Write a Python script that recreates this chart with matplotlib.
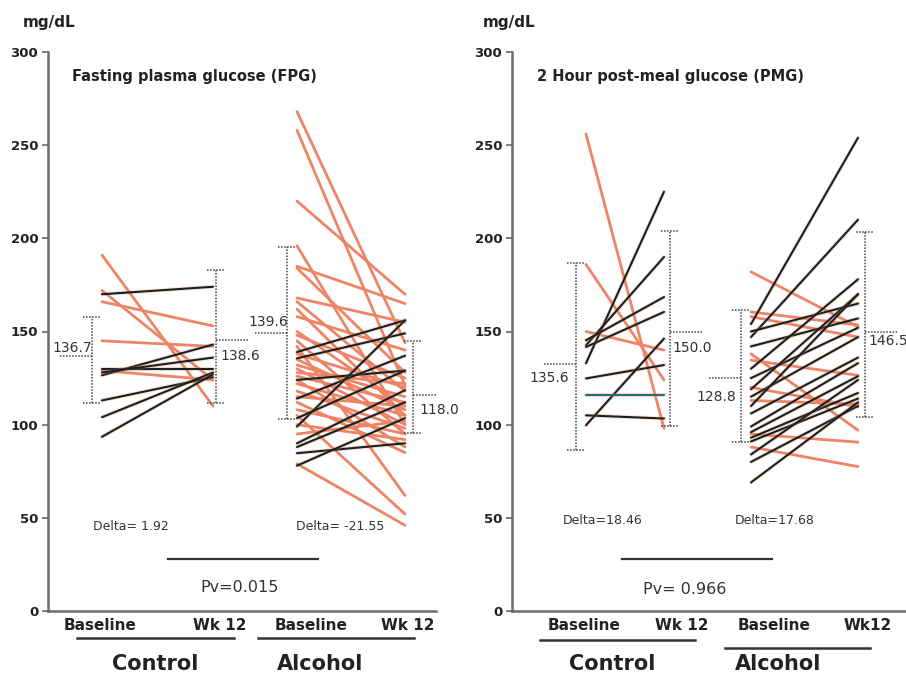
import matplotlib
matplotlib.use("Agg")
import matplotlib.pyplot as plt
import matplotlib.patheffects as pe

plt.rcParams['font.family'] = ['DejaVu Sans']

# ---------------- data (mg/dL) ----------------
# FPG panel: (baseline, wk12) pairs
fpg_ctrl_orange = [(191, 110), (172, 124), (166, 153), (145, 142), (129, 124)]
fpg_ctrl_black = [(170, 174), (130, 130), (126.5, 143), (128, 136), (113, 125.5),
                  (104, 128), (93.5, 127)]
fpg_alc_orange = [(268, 144), (258, 121), (220, 170), (196, 100), (185, 165), (184, 128),
                  (168, 155), (166, 118), (162, 105), (158, 140), (150, 110), (148, 125),
                  (145, 95), (142, 62), (138, 120), (135, 108), (132, 115), (130, 100),
                  (128, 122), (126, 112), (124, 88), (122, 105), (118, 98), (115, 110),
                  (112, 85), (108, 95), (105, 52), (100, 92), (95, 102), (79, 46)]
fpg_alc_black = [(139, 156), (135.6, 149), (124, 129), (114, 137), (99, 156), (103.5, 129),
                 (90, 118.5), (88, 112), (84.7, 90), (78, 103.5)]

# PMG panel
pmg_ctrl_orange = [(256, 98), (186, 124), (150, 140)]
pmg_ctrl_black = [(133, 225), (142.6, 190), (145.3, 168.5), (141.7, 160.5), (124.8, 132),
                  (105, 103.3), (99.7, 146.2)]
pmg_ctrl_teal = [(115.8, 115.8)]
pmg_alc_orange = [(182, 152.5), (160.5, 153.5), (158, 147), (138, 97), (134.6, 126.5),
                  (120, 109.6), (113, 111), (95, 90.6), (88, 77.5)]
pmg_alc_black = [(154, 254), (147, 210), (150, 165), (142, 157), (130, 178), (125, 152),
                 (119, 170), (115, 147), (110, 170), (106, 136), (99, 133), (96, 126),
                 (93, 117), (91, 114), (84, 124), (80, 110), (69, 112)]

# error bars: (low, high, mean tick, label)
fpg_bars = [(111.7, 157.8, 136.7, "136.7"), (111.4, 182.8, 145.3, "138.6"),
            (103.3, 195.3, 149.0, "139.6"), (95.4, 145.0, 115.8, "118.0")]
pmg_bars = [(86.3, 186.8, 132.8, "135.6"), (99.2, 203.9, 149.8, "150.0"),
            (90.8, 161.4, 124.8, "128.8"), (104.2, 203.4, 149.8, "146.5")]

deltas_fpg = ["Delta= 1.92", "Delta= -21.55"]
deltas_pmg = ["Delta=18.46", "Delta=17.68"]
pv_fpg = "Pv=0.015"
pv_pmg = "Pv= 0.966"
yticks = [0, 50, 100, 150, 200, 250, 300]

# ---------------- styling ----------------
ORANGE = '#ee8465'
BLACK = '#152222'
TEAL = '#2a6a78'
TXT = '#222222'

W, H = 906, 675
fig = plt.figure(figsize=(W / 100, H / 100), dpi=100)


def fx(x):
    return x / W


def fy(y):
    return 1 - y / H


def make_axes(x0, x1):
    y0, y1 = 52, 611
    ax = fig.add_axes([fx(x0), fy(y1), (x1 - x0) / W, (y1 - y0) / H])
    ax.set_xlim(0, x1 - x0)
    ax.set_ylim(0, 300)
    ax.set_yticks(yticks)
    ax.set_yticklabels([str(t) for t in yticks], fontsize=9.5, fontweight='bold', color=TXT)
    ax.set_xticks([])
    for s in ['top', 'right']:
        ax.spines[s].set_visible(False)
    for s in ['left', 'bottom']:
        ax.spines[s].set_color('#6a6a6a')
        ax.spines[s].set_linewidth(1.8)
    ax.tick_params(axis='y', length=4, width=1.2, color='#6a6a6a', pad=3)
    ax.patch.set_alpha(0)
    return ax


halo = [pe.Stroke(linewidth=3.0, foreground=ORANGE, alpha=0.25), pe.Normal()]


def draw_pairs(ax, pairs, xa, xb, color, lw, z, effects=None):
    for a, b in pairs:
        ln, = ax.plot([xa, xb], [a, b], color=color, lw=lw, solid_capstyle='round', zorder=z)
        if effects:
            ln.set_path_effects(effects)


DOT = (0, (1, 1))


def draw_bar(ax, bx, bar, side, label_x, label_y, ha):
    lo, hi, m, lab = bar
    kw = dict(color='#444444', lw=1.1, ls=DOT, zorder=5)
    ax.plot([bx, bx], [lo, hi], **kw)
    ax.plot([bx - 9, bx + 9], [lo, lo], **kw)
    ax.plot([bx - 9, bx + 9], [hi, hi], **kw)
    ax.plot([bx, bx + side * 32], [m, m], **kw)
    ax.text(label_x, label_y, lab, fontsize=10, color='#333333', ha=ha, va='center', zorder=6)


# ---------------- left panel (FPG) ----------------
axL = make_axes(48, 436)
xs = [54, 165, 249, 357]
draw_pairs(axL, fpg_ctrl_orange, xs[0], xs[1], ORANGE, 2.0, 2)
draw_pairs(axL, fpg_alc_orange, xs[2], xs[3], ORANGE, 2.0, 2)
draw_pairs(axL, fpg_ctrl_black, xs[0], xs[1], BLACK, 1.5, 3, halo)
draw_pairs(axL, fpg_alc_black, xs[2], xs[3], BLACK, 1.5, 3, halo)
draw_bar(axL, 44, fpg_bars[0], -1, 44, 141, 'right')
draw_bar(axL, 168, fpg_bars[1], +1, 172, 137, 'left')
draw_bar(axL, 239, fpg_bars[2], -1, 240, 155, 'right')
draw_bar(axL, 365, fpg_bars[3], +1, 371, 108, 'left')

# ---------------- right panel (PMG) ----------------
axR = make_axes(512, 906)
xs = [74, 152, 239, 346]
draw_pairs(axR, pmg_ctrl_orange, xs[0], xs[1], ORANGE, 2.0, 2)
draw_pairs(axR, pmg_alc_orange, xs[2], xs[3], ORANGE, 2.0, 2)
draw_pairs(axR, pmg_ctrl_black, xs[0], xs[1], BLACK, 1.5, 3, halo)
draw_pairs(axR, pmg_ctrl_teal, xs[0], xs[1], TEAL, 1.5, 3, halo)
draw_pairs(axR, pmg_alc_black, xs[2], xs[3], BLACK, 1.5, 3, halo)
draw_bar(axR, 64, pmg_bars[0], -1, 57, 125, 'right')
draw_bar(axR, 158, pmg_bars[1], +1, 160, 141, 'left')
draw_bar(axR, 229, pmg_bars[2], -1, 224, 115, 'right')
draw_bar(axR, 353, pmg_bars[3], +1, 356, 145, 'left')

# ---------------- texts ----------------
fig.text(fx(23), fy(22), "mg/dL", fontsize=11, fontweight='bold', color=TXT, va='center')
fig.text(fx(483), fy(22), "mg/dL", fontsize=11, fontweight='bold', color=TXT, va='center')
fig.text(fx(72), fy(77), "Fasting plasma glucose (FPG)", fontsize=10.5, fontweight='bold',
         color=TXT, va='center')
fig.text(fx(537), fy(77), "2 Hour post-meal glucose (PMG)", fontsize=10.5, fontweight='bold',
         color=TXT, va='center')

fig.text(fx(93), fy(527), deltas_fpg[0], fontsize=9, color='#333333', va='center')
fig.text(fx(296), fy(527), deltas_fpg[1], fontsize=9, color='#333333', va='center')
fig.text(fx(563), fy(520), deltas_pmg[0], fontsize=9, color='#333333', va='center')
fig.text(fx(735), fy(520), deltas_pmg[1], fontsize=9, color='#333333', va='center')

fig.text(fx(240), fy(587), pv_fpg, fontsize=11.5, color='#333333', ha='center', va='center')
fig.text(fx(685), fy(590), pv_pmg, fontsize=11.5, color='#333333', ha='center', va='center')


def hline(x0, x1, y, lw=1.6):
    fig.add_artist(plt.Line2D([fx(x0), fx(x1)], [fy(y), fy(y)], color='#333333', lw=lw,
                              transform=fig.transFigure))


hline(168, 318, 559)
hline(622, 772, 559)

# x category labels
for txt, cx in [("Baseline", 100), ("Wk 12", 220), ("Baseline", 311), ("Wk 12", 408),
                ("Baseline", 584), ("Wk 12", 682), ("Baseline", 774), ("Wk12", 868)]:
    fig.text(fx(cx), fy(625), txt, fontsize=11, fontweight='bold', color=TXT,
             ha='center', va='center')
hline(77, 234, 638, 1.8)
hline(258, 414, 638, 1.8)
hline(540, 695, 640, 1.8)
hline(725, 870, 648, 1.8)
for txt, cx in [("Control", 155), ("Alcohol", 320), ("Control", 612), ("Alcohol", 778)]:
    fig.text(fx(cx), fy(664), txt, fontsize=15, fontweight='bold', color=TXT,
             ha='center', va='center')

fig.savefig("out.png", dpi=100)
